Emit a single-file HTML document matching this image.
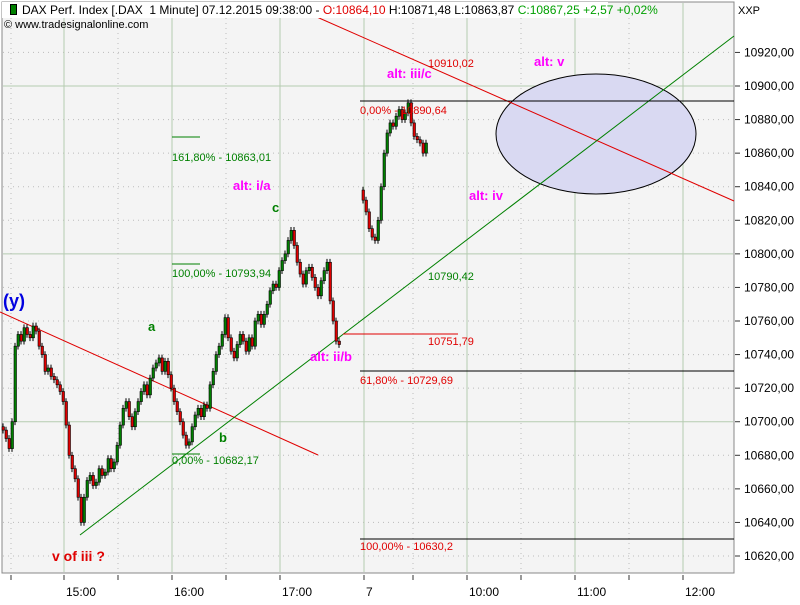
<!DOCTYPE html>
<html><head><meta charset="utf-8"><style>
body{margin:0;background:#fff;font-family:"Liberation Sans","DejaVu Sans",sans-serif}
svg text{font-family:"Liberation Sans","DejaVu Sans",sans-serif}
</style></head><body>
<svg id="c" width="800" height="600" xmlns="http://www.w3.org/2000/svg">
<rect x="0" y="0" width="800" height="600" fill="#fff"/>
<rect x="2" y="2" width="732" height="571" fill="#f4f4f4" stroke="#888"/>
<g id="grid"></g>
<g id="axes"></g>
<g id="draw"></g>
<g id="candles"></g>
<g id="labels"></g>
</svg>
<script>
const yTicks=[10620,10640,10660,10680,10700,10720,10740,10760,10780,10800,10820,10840,10860,10880,10900,10920];
const xTickLabels=["15:00","16:00","17:00","7","10:00","11:00","12:00"];
const xTickPos=[64,172,280,364,467,575,683];
const day1Close=[10695,10690,10684,10700,10745,10752,10748,10756,10752,10750,10757,10754,10745,10740,10730,10732,10727,10725,10722,10718,10712,10698,10680,10672,10666,10655,10640,10655,10665,10668,10662,10664,10672,10668,10670,10678,10672,10676,10686,10698,10708,10712,10703,10697,10706,10712,10718,10722,10716,10726,10732,10735,10738,10730,10736,10728,10720,10712,10706,10700,10692,10686,10688,10697,10704,10708,10703,10710,10708,10722,10730,10740,10745,10752,10762,10750,10742,10738,10746,10752,10748,10742,10750,10745,10760,10764,10758,10764,10770,10778,10782,10780,10790,10796,10800,10808,10814,10805,10795,10788,10782,10790,10792,10786,10780,10775,10784,10790,10795,10772,10760,10748,10746];
const day2Close=[10832,10825,10815,10810,10808,10820,10840,10860,10872,10878,10876,10882,10886,10880,10884,10890,10878,10870,10868,10866,10860,10866];
const day1Open=10697, day2Open=10838;
const NS='http://www.w3.org/2000/svg';
function y(v){return 86+(10900-v)*1.6786;}
function mk(tag,attrs,parent){const e=document.createElementNS(NS,tag);for(const k in attrs)e.setAttribute(k,attrs[k]);parent.appendChild(e);return e;}
const grid=document.getElementById('grid'),axes=document.getElementById('axes'),draw=document.getElementById('draw'),cg=document.getElementById('candles'),lab=document.getElementById('labels');
yTicks.forEach(v=>{const yy=y(v);if(yy<3||yy>572)return;
 const solid=(v%100===0);
 const l=mk('line',{x1:3,x2:733,y1:yy,y2:yy,stroke:solid?'#b5cbb0':'#bbb','stroke-dasharray':solid?'':'1,4'},grid);
 
 mk('line',{x1:735,x2:740,y1:yy,y2:yy,stroke:'#333'},axes);
 const t=mk('text',{x:744,y:yy+4,'font-size':12,fill:'#000'},axes);t.textContent=v.toFixed(2).replace('.',',');
 
});
[11,118,226,413,521,629].forEach(x=>{mk('line',{x1:x,x2:x,y1:3,y2:572,stroke:'#bbb','stroke-dasharray':'1,4'},grid);mk('line',{x1:x,x2:x,y1:575,y2:580,stroke:'#333'},axes);});
xTickLabels.forEach((s,i)=>{const x=xTickPos[i];
 mk('line',{x1:x,x2:x,y1:3,y2:572,stroke:'#b5cbb0'},grid);
 mk('line',{x1:x,x2:x,y1:575,y2:580,stroke:'#333'},axes);
 const t=mk('text',{x:x+2,y:596,'font-size':12,fill:'#000'},axes);t.textContent=s;
 
});
function L(x1,y1,x2,y2,c,n){const e=mk('line',{x1,y1,x2,y2,stroke:c,'stroke-width':1},draw);}
const el=mk('ellipse',{cx:596,cy:134,rx:100,ry:60,fill:'#d9d9f2',stroke:'#000'},draw);

L(0,312,318,455,'#e00000','downtrend-line-1');
L(310,14,734,201,'#e00000','downtrend-line-2');
L(80,535,734,36,'#008000','uptrend-line');
L(360,101,734,101,'#000','fib-0-level');
L(360,371,734,371,'#000','fib-618-level');
L(360,539,734,539,'#000','fib-100-level');
L(343,334,458,334,'#e00000','level-10751');
L(172,137,200,137,'#008000','fib-1618-green');
L(172,264,200,264,'#008000','fib-100-green');
L(172,454,200,454,'#008000','fib-0-green');
function candles(closes,open,x0){let o=open;closes.forEach((c,i)=>{const x=x0+i*3;const hi=Math.max(o,c)+2,lo=Math.min(o,c)-2;
 mk('line',{x1:x+1,x2:x+1,y1:y(hi),y2:y(lo),stroke:'#000'},cg);
 const top=y(Math.max(o,c)),h=Math.max(1,y(Math.min(o,c))-top);
 const r=mk('rect',{x:x,y:top,width:2.5,height:h,fill:c>=o?'#008000':'#e00000',stroke:'#000','stroke-width':0.6},cg);
 
 o=c;});}
candles(day1Close,day1Open,2);
candles(day2Close,day2Open,362);
function T(x,yy,s,c,sz,b,n){const t=mk('text',{x,y:yy,'font-size':sz,fill:c,'font-weight':b?'bold':'normal'},lab);t.textContent=s;}
const M='#ff00ff',G='#008000',R='#e00000';
T(428,67,'10910,02',R,11,0,'label-10910');
T(387,78,'alt: iii/c',M,13,1,'label-alt-iii-c');
T(534,66,'alt: v',M,13,1,'label-alt-v');
T(360,114,'0,00% - 10890,64',R,11,0,'label-fib-0');
T(172,161,'161,80% - 10863,01',G,11,0,'label-fib-1618');
T(233,190,'alt: i/a',M,13,1,'label-alt-i-a');
T(272,212,'c',G,13,1,'label-c');
T(469,200,'alt: iv',M,13,1,'label-alt-iv');
T(172,277,'100,00% - 10793,94',G,11,0,'label-fib-100');
T(428,280,'10790,42',G,11,0,'label-10790');
T(3,307,'(y)',"#0000e0",18,1,'label-y-wave');
T(148,331,'a',G,13,1,'label-a');
T(428,345,'10751,79',R,11,0,'label-10751');
T(310,361,'alt: ii/b',M,13,1,'label-alt-ii-b');
T(360,384,'61,80% - 10729,69',R,11,0,'label-fib-618');
T(219,442,'b',G,13,1,'label-b');
T(172,464,'0,00% - 10682,17',G,11,0,'label-fib-0-green');
T(52,561,'v of iii ?',R,14,1,'label-v-of-iii');
T(360,550,'100,00% - 10630,2',R,11,0,'label-fib-100-red');
T(738,14,'XXP','#000',11,0,'axis-unit');
</script>
<div style="position:absolute;left:2px;top:2px;width:606px;height:16px;background:#fff;font-size:12px;line-height:16px;white-space:nowrap">
<span style="display:inline-block;width:5px;height:9px;background:#008000;border:1px solid #000;margin:0 5px 0 8px;vertical-align:-1px"></span><span>DAX Perf. Index [.DAX&nbsp; 1 Minute] 07.12.2015 09:38:00 - <span style="color:#e00000">O:10864,10</span> H:10871,48 L:10863,87 <span style="color:#00a000">C:10867,25 +2,57 +0,02%</span></span>
</div>
<div style="position:absolute;left:4px;top:19px;font-size:11px;color:#000">© www.tradesignalonline.com</div>
</body></html>
